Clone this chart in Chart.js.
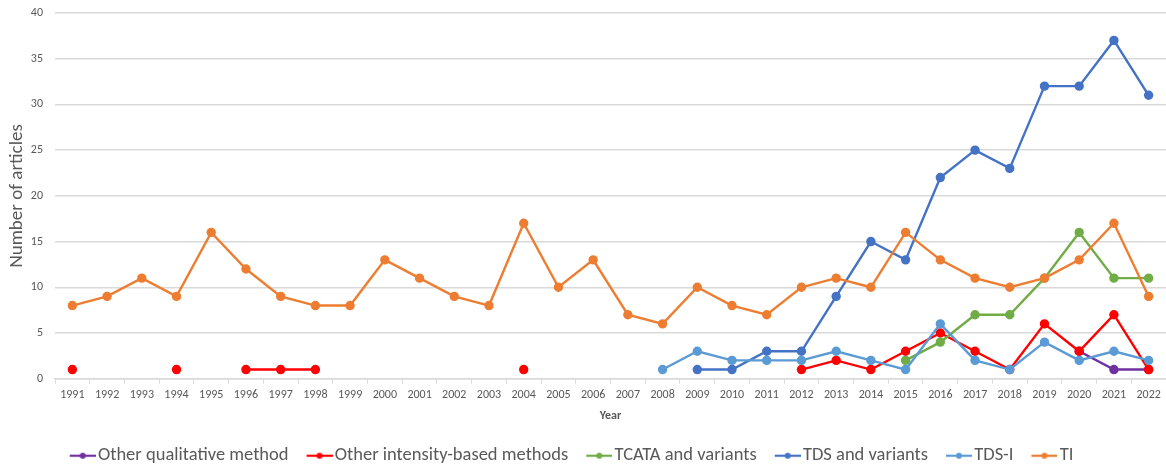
<!DOCTYPE html>
<html lang="en">
<head>
<meta charset="UTF-8" />
<title>Number of articles per year</title>
<script src="https://cdn.jsdelivr.net/npm/chart.js"></script>
<style>
html, body { margin: 0; padding: 0; background: white; }
.grafica { width: 1166px; height: 465px; }
</style>
</head>
<body>
<div class="grafica">
<canvas id="myChart"></canvas>
</div>
<script>
const years = ["1991","1992","1993","1994","1995","1996","1997","1998","1999","2000","2001","2002","2003","2004","2005","2006","2007","2008","2009","2010","2011","2012","2013","2014","2015","2016","2017","2018","2019","2020","2021","2022"];

const otherQualitative = [null,null,null,null,null,null,null,null,null,null,null,null,null,null,null,null,null,null,null,null,null,null,null,null,null,null,null,null,null,3,1,1];
const otherIntensity = [1,null,null,1,null,1,1,1,null,null,null,null,null,1,null,null,null,null,null,null,null,1,2,1,3,5,3,1,6,3,7,1];
const tcata = [null,null,null,null,null,null,null,null,null,null,null,null,null,null,null,null,null,null,null,null,null,null,null,null,2,4,7,7,11,16,11,11];
const tds = [null,null,null,null,null,null,null,null,null,null,null,null,null,null,null,null,null,null,1,1,3,3,9,15,13,22,25,23,32,32,37,31];
const tdsI = [null,null,null,null,null,null,null,null,null,null,null,null,null,null,null,null,null,1,3,2,2,2,3,2,1,6,2,1,4,2,3,2];
const ti = [8,9,11,9,16,12,9,8,8,13,11,9,8,17,10,13,7,6,10,8,7,10,11,10,16,13,11,10,11,13,17,9];

const yTicks = { min: 0, max: 40, step: 5 };

const fontName = "Carlito, 'Liberation Sans', sans-serif";
const grey = "#595959";
const gridGrey = "#d9d9d9";

// legend symbol: short line with a dot, sitting at the right of a wider transparent image
function legendMark(color) {
  const c = document.createElement("canvas");
  c.width = 48;
  c.height = 10;
  const ctx = c.getContext("2d");
  ctx.strokeStyle = color;
  ctx.lineWidth = 2.2;
  ctx.beginPath();
  ctx.moveTo(22, 5);
  ctx.lineTo(48, 5);
  ctx.stroke();
  ctx.fillStyle = color;
  ctx.beginPath();
  ctx.arc(35, 5, 3, 0, Math.PI * 2);
  ctx.fill();
  return c;
}

function makeSet(label, data, color, order) {
  return {
    label,
    data,
    borderColor: color,
    backgroundColor: color,
    pointBackgroundColor: color,
    pointBorderColor: color,
    pointRadius: 3.5,
    pointHoverRadius: 4,
    borderWidth: 2.4,
    spanGaps: false,
    tension: 0,
    order,
    legendMark: legendMark(color)
  };
}

const datasets = [
  makeSet("Other qualitative method", otherQualitative, "#7030A0", 6),
  makeSet("Other intensity-based methods", otherIntensity, "#FF0000", 5),
  makeSet("TCATA and variants", tcata, "#70AD47", 4),
  makeSet("TDS and variants", tds, "#4472C4", 3),
  makeSet("TDS-I", tdsI, "#5B9BD5", 2),
  makeSet("TI", ti, "#ED7D31", 1)
];

// pull the legend a bit lower and to the left, like the original
const legendNudge = {
  id: "legendNudge",
  beforeInit(chart) {
    const legend = chart.legend;
    const fit = legend.fit;
    legend.fit = function () {
      fit.call(this);
      this.height -= 10;
    };
  },
  afterLayout(chart) {
    chart.legend.left -= 19;
    chart.legend.right -= 19;
  }
};

const config = {
  type: "line",
  data: { labels: years, datasets },
  options: {
    responsive: true,
    maintainAspectRatio: false,
    animation: false,
    layout: { autoPadding: false, padding: { left: 0, right: 0, top: 13, bottom: 0 } },
    plugins: {
      tooltip: { enabled: false },
      legend: {
        position: "bottom",
        labels: {
          color: grey,
          font: { family: fontName, size: 18.5 },
          usePointStyle: true,
          pointStyleWidth: 34,
          boxHeight: 10,
          padding: 3,
          generateLabels(chart) {
            return chart.data.datasets.map((ds, i) => ({
              text: ds.label,
              fillStyle: ds.borderColor,
              strokeStyle: ds.borderColor,
              fontColor: grey,
              lineWidth: 0,
              pointStyle: ds.legendMark,
              hidden: false,
              datasetIndex: i
            }));
          }
        }
      }
    },
    scales: {
      x: {
        offset: true,
        afterFit(scale) {
          scale.paddingLeft = 0;
          scale.paddingRight = 0;
        },
        grid: {
          display: true,
          drawOnChartArea: false,
          drawTicks: true,
          tickLength: 5,
          offset: true,
          color: gridGrey
        },
        border: { display: true, color: gridGrey, width: 1.5 },
        ticks: {
          color: grey,
          font: { family: fontName, size: 12 },
          autoSkip: false,
          maxRotation: 0,
          padding: 4
        },
        title: {
          display: true,
          text: "Year",
          color: grey,
          font: { family: fontName, size: 12, weight: "bold" },
          padding: { top: 3, bottom: 20 }
        }
      },
      y: {
        min: yTicks.min,
        max: yTicks.max,
        afterFit(scale) {
          scale.width = 55;
          scale.paddingTop = 13;
        },
        grid: { color: gridGrey, lineWidth: 1.5, drawTicks: false },
        border: { display: false },
        ticks: {
          stepSize: yTicks.step,
          color: grey,
          font: { family: fontName, size: 12 },
          padding: 12
        },
        title: {
          display: true,
          text: "Number of articles",
          color: grey,
          font: { family: fontName, size: 19 },
          padding: { top: 6, bottom: 0 }
        }
      }
    }
  },
  plugins: [legendNudge]
};

const myChart = document.getElementById("myChart");
myChart.style.backgroundColor = "white";
new Chart(myChart, config);
</script>
</body>
</html>
